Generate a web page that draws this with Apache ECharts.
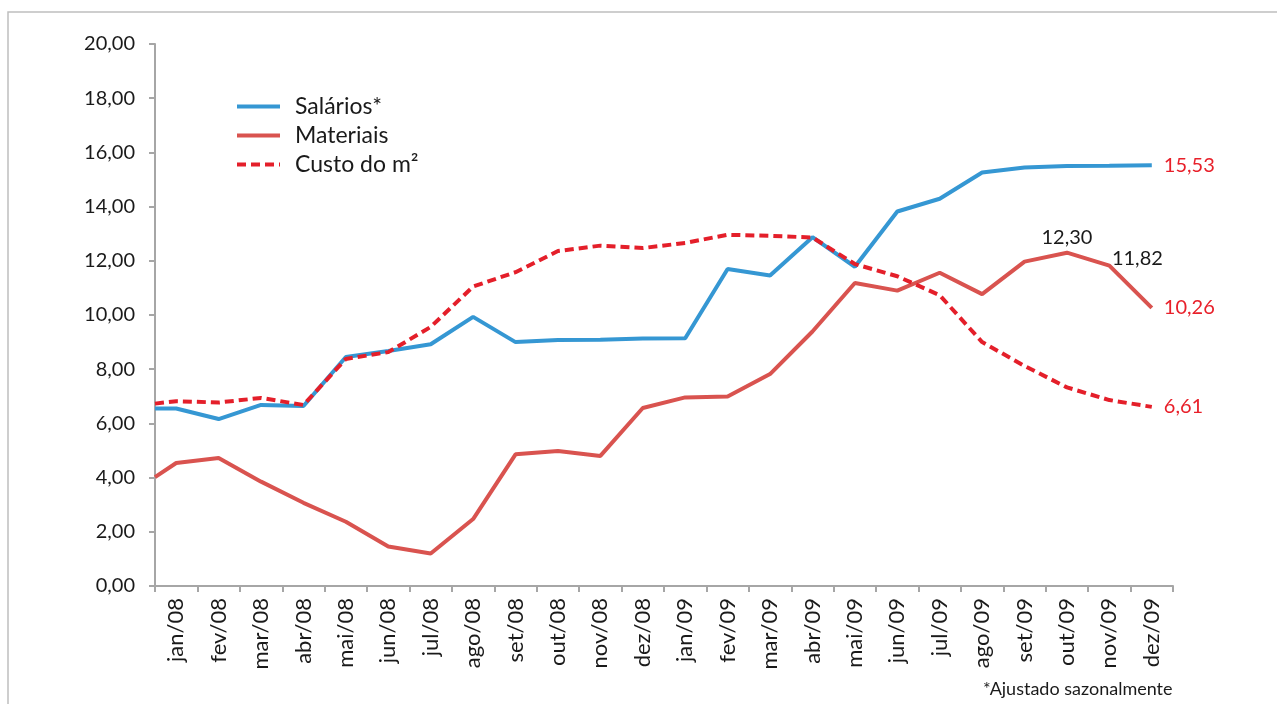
<!DOCTYPE html>
<html>
<head>
<meta charset="utf-8">
<script src="https://cdn.jsdelivr.net/npm/echarts@6/dist/echarts.min.js"></script>
<style>
  html, body { margin: 0; padding: 0; background: #fff; }
  #chart { width: 1277px; height: 704px; }
</style>
</head>
<body>
<div id="chart"></div>
<script>
const FONT = 'Lato';

const meses = ['jan/08', 'fev/08', 'mar/08', 'abr/08', 'mai/08', 'jun/08', 'jul/08', 'ago/08',
  'set/08', 'out/08', 'nov/08', 'dez/08', 'jan/09', 'fev/09', 'mar/09', 'abr/09', 'mai/09',
  'jun/09', 'jul/09', 'ago/09', 'set/09', 'out/09', 'nov/09', 'dez/09'];

// valor no início do eixo (antes de jan/08)
let inicio = [6.55, 4.02, 6.73];

let salarios = [6.55, 6.16, 6.68, 6.64, 8.45, 8.67, 8.92, 9.93, 9.0, 9.08, 9.09, 9.13,
  9.14, 11.7, 11.46, 12.87, 11.78, 13.82, 14.29, 15.26, 15.44, 15.5, 15.51, 15.53];

let materiais = [4.54, 4.72, 3.85, 3.07, 2.37, 1.46, 1.2, 2.47, 4.86, 4.98, 4.8, 6.57,
  6.96, 6.99, 7.82, 9.39, 11.18, 10.9, 11.56, 10.77, 11.97, 12.30, 11.82, 10.26];

let custo = [6.82, 6.77, 6.94, 6.68, 8.38, 8.63, 9.56, 11.05, 11.58, 12.36, 12.56, 12.47,
  12.66, 12.96, 12.92, 12.86, 11.88, 11.43, 10.73, 9.0, 8.12, 7.33, 6.86, 6.61];

function fmt(v) {
  return v.toFixed(2).replace('.', ',');
}

// monta os pontos [x, y] com rótulos opcionais por índice
function pontos(v0, valores, rotulos) {
  let d = [[-0.5, v0]];
  valores.forEach(function (v, i) {
    if (rotulos[i]) {
      d.push({ value: [i, v], label: Object.assign({ show: true, formatter: fmt(v) }, rotulos[i]) });
    } else {
      d.push([i, v]);
    }
  });
  return d;
}

const ultimo = meses.length - 1;
const rotuloFinal = {
  position: 'right', distance: 12, color: '#E8202A', fontSize: 20, fontFamily: FONT
};

let rotSalarios = {};
rotSalarios[ultimo] = rotuloFinal;

let rotMateriais = {};
rotMateriais[ultimo - 2] = { position: 'top', distance: 5, color: '#1a1a1a', fontSize: 20, fontFamily: FONT };
rotMateriais[ultimo - 1] = { position: 'top', distance: 5, offset: [28, 8], color: '#1a1a1a', fontSize: 20, fontFamily: FONT };
rotMateriais[ultimo] = rotuloFinal;

let rotCusto = {};
rotCusto[ultimo] = rotuloFinal;

function linha(nome, cor, dados, tipo) {
  return {
    name: nome,
    type: 'line',
    xAxisIndex: 1,
    symbol: 'circle',
    symbolSize: 0,
    showSymbol: true,
    lineStyle: { color: cor, width: 4, type: tipo || 'solid' },
    itemStyle: { color: cor },
    label: { show: false },
    data: dados
  };
}

var chartDom = document.getElementById('chart');
var myChart = echarts.init(chartDom);

option = {
  animation: false,
  backgroundColor: '#fff',
  grid: { left: 155, right: 104, top: 44, bottom: 118 },
  legend: {
    orient: 'vertical',
    left: 230,
    top: 90,
    itemWidth: 43,
    itemHeight: 14,
    itemGap: 6,
    itemStyle: { color: 'transparent', borderWidth: 0 },
    lineStyle: { width: 4 },
    textStyle: { fontFamily: FONT, fontSize: 23, color: '#1a1a1a', padding: [0, 0, 0, 10] },
    data: ['Salários*', 'Materiais', 'Custo do m²']
  },
  xAxis: [
    {
      type: 'category',
      data: meses,
      boundaryGap: true,
      axisLine: { lineStyle: { color: '#A6A6A6', width: 2 } },
      axisTick: { show: true, length: 6, lineStyle: { color: '#A6A6A6', width: 2 } },
      axisLabel: { rotate: 90, margin: 12, fontFamily: FONT, fontSize: 22, color: '#1a1a1a', interval: 0 },
      splitLine: { show: false }
    },
    {
      type: 'value',
      min: -0.5,
      max: 23.5,
      show: false
    }
  ],
  yAxis: {
    type: 'value',
    min: 0,
    max: 20,
    interval: 2,
    axisLine: { show: true, onZero: false, lineStyle: { color: '#A6A6A6', width: 2 } },
    axisTick: { show: true, length: 6, lineStyle: { color: '#A6A6A6', width: 2 } },
    axisLabel: { margin: 20, fontFamily: FONT, fontSize: 20, color: '#1a1a1a', formatter: fmt },
    splitLine: { show: false }
  },
  series: [
    linha('Salários*', '#3597D3', pontos(inicio[0], salarios, rotSalarios)),
    linha('Materiais', '#D9534F', pontos(inicio[1], materiais, rotMateriais)),
    linha('Custo do m²', '#E41F2A', pontos(inicio[2], custo, rotCusto), [9, 5])
  ],
  graphic: [
    {
      type: 'rect',
      shape: { x: 8, y: 12, width: 1300, height: 800 },
      style: { fill: 'none', stroke: '#BFBFBF', lineWidth: 1.5 },
      silent: true
    },
    {
      type: 'text',
      left: 983,
      top: 680,
      style: { text: '*Ajustado sazonalmente', fontFamily: FONT, fontSize: 18, fill: '#1a1a1a' }
    }
  ]
};

myChart.setOption(option);
</script>
</body>
</html>
